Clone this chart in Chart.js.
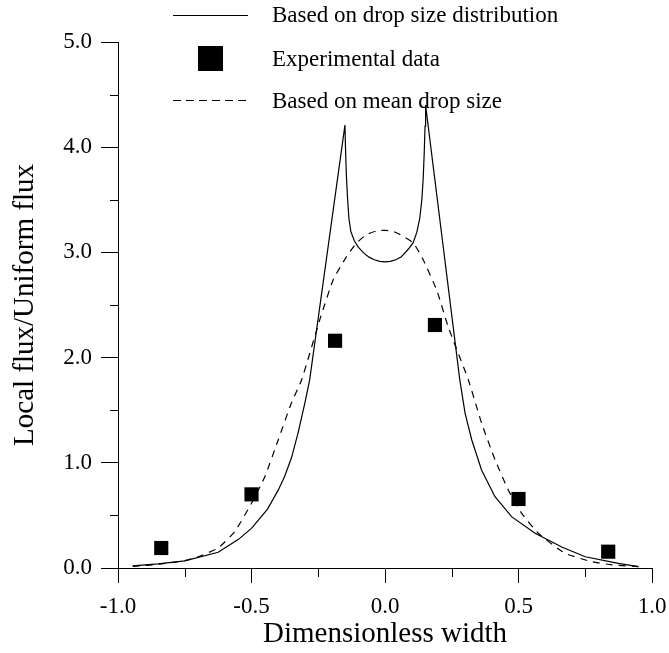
<!DOCTYPE html>
<html>
<head>
<meta charset="utf-8">
<script src="https://cdn.jsdelivr.net/npm/chart.js@4"></script>
<style>
  body { margin: 0; background: #fff; }
  #wrap { position: relative; width: 669px; height: 653px; }
  .leyenda { position: absolute; left: 272px; font-family: "Liberation Serif", "Times New Roman", serif; font-size: 23px; line-height: 23px; color: #000; white-space: nowrap; }
</style>
</head>
<body>
<div id="wrap">
  <canvas id="fluxChart" width="669" height="653"></canvas>
  <svg style="position:absolute;left:0;top:0" width="669" height="120">
    <line x1="173" y1="15.5" x2="248" y2="15.5" stroke="#000" stroke-width="1.2"/>
    <rect x="198" y="46" width="25" height="25" fill="#000"/>
    <line x1="173" y1="100.5" x2="248" y2="100.5" stroke="#000" stroke-width="1.2" stroke-dasharray="8,5"/>
  </svg>
  <div class="leyenda" style="top:3px">Based on drop size distribution</div>
  <div class="leyenda" style="top:47px">Experimental data</div>
  <div class="leyenda" style="top:89px">Based on mean drop size</div>
</div>
<script>
// Curva basada en la distribucion de tamaño de gotas
var distX = [-0.945, -0.85, -0.75, -0.625, -0.55, -0.50, -0.44, -0.40, -0.376, -0.35, -0.326, -0.30, -0.282,
             -0.15, -0.148, -0.145, -0.14, -0.135, -0.128, -0.115, -0.10, -0.08, -0.06, -0.04, -0.02, 0.0,
             0.02, 0.04, 0.06, 0.087, 0.105, 0.119, 0.13, 0.138, 0.143, 0.147, 0.15, 0.152,
             0.28, 0.30, 0.325, 0.362, 0.412, 0.474, 0.562, 0.662, 0.75, 0.874, 0.949];
var distY = [0.02, 0.04, 0.067, 0.15, 0.27, 0.377, 0.56, 0.74, 0.87, 1.05, 1.28, 1.57, 1.79,
             4.21, 4.0, 3.75, 3.5, 3.32, 3.2, 3.11, 3.05, 2.995, 2.955, 2.93, 2.915, 2.91,
             2.915, 2.93, 2.955, 3.03, 3.09, 3.19, 3.32, 3.5, 3.7, 3.95, 4.2, 4.40,
             1.79, 1.47, 1.217, 0.93, 0.678, 0.488, 0.33, 0.20, 0.107, 0.044, 0.013];

// Curva basada en el tamaño medio de gota
var mediaX = [-0.945, -0.85, -0.75, -0.70, -0.625, -0.563, -0.50, -0.45, -0.40, -0.351, -0.312, -0.243, -0.194,
              -0.144, -0.106, -0.069, -0.03, 0.0, 0.03, 0.056, 0.106, 0.143, 0.194, 0.237, 0.312, 0.362,
              0.412, 0.462, 0.512, 0.574, 0.674, 0.774, 0.85, 0.949];
var mediaY = [0.015, 0.035, 0.07, 0.107, 0.19, 0.345, 0.615, 0.868, 1.217, 1.566, 1.79, 2.37, 2.74,
              2.96, 3.09, 3.17, 3.205, 3.21, 3.2, 3.17, 3.09, 2.93, 2.64, 2.29, 1.79, 1.375,
              1.03, 0.74, 0.52, 0.33, 0.14, 0.06, 0.03, 0.013];

// Datos experimentales
var expX = [-0.838, -0.50, -0.187, 0.187, 0.50, 0.836];
var expY = [0.19, 0.70, 2.16, 2.31, 0.656, 0.155];

var ejeXMenores = [-0.75, -0.25, 0.25, 0.75];
var ejeYMenores = [0.5, 1.5, 2.5, 3.5, 4.5];

function puntos(xs, ys) {
    return xs.map(function(x, i) { return {x: x, y: ys[i]}; });
}

var fuente = "'Liberation Serif', 'Times New Roman', serif";

// Marcas menores de los ejes
var marcasMenores = {
    id: 'marcasMenores',
    afterDraw: function(chart) {
        var ctx = chart.ctx;
        var sx = chart.scales.x, sy = chart.scales.y;
        ctx.save();
        ctx.strokeStyle = '#000';
        ctx.lineWidth = 1;
        ctx.beginPath();
        ejeXMenores.forEach(function(v) {
            var px = Math.round(sx.getPixelForValue(v)) + 0.5;
            ctx.moveTo(px, sy.bottom);
            ctx.lineTo(px, sy.bottom + 9);
        });
        ejeYMenores.forEach(function(v) {
            var py = Math.round(sy.getPixelForValue(v)) + 0.5;
            ctx.moveTo(sx.left - 8, py);
            ctx.lineTo(sx.left, py);
        });
        ctx.stroke();
        ctx.restore();
    }
};

document.addEventListener("DOMContentLoaded", function() {
    var ctx = document.getElementById('fluxChart').getContext('2d');
    var fluxChart = new Chart(ctx, {
        type: 'scatter',
        data: {
            datasets: [{
                label: 'Experimental data',
                data: puntos(expX, expY),
                pointStyle: 'rect',
                pointRadius: 10,
                pointBackgroundColor: '#000',
                pointBorderWidth: 0,
                showLine: false,
                order: 0
            }, {
                label: 'Based on drop size distribution',
                data: puntos(distX, distY),
                showLine: true,
                borderColor: '#000',
                borderWidth: 1.2,
                pointRadius: 0,
                tension: 0,
                order: 1
            }, {
                label: 'Based on mean drop size',
                data: puntos(mediaX, mediaY),
                showLine: true,
                borderColor: '#000',
                borderWidth: 1.2,
                borderDash: [7, 6],
                pointRadius: 0,
                tension: 0.15,
                order: 2
            }]
        },
        options: {
            responsive: false,
            animation: false,
            layout: { padding: { top: 42, right: 17, left: 0, bottom: 0 } },
            plugins: { legend: { display: false }, tooltip: { enabled: false } },
            scales: {
                x: {
                    type: 'linear',
                    min: -1, max: 1,
                    afterFit: function(scale) {
                        scale.height = 85;
                        scale.paddingLeft = 0;
                        scale.paddingRight = 0;
                    },
                    border: { color: '#000', width: 1 },
                    grid: { drawOnChartArea: false, tickLength: 15, tickColor: '#000' },
                    ticks: {
                        stepSize: 0.5, padding: 10, color: '#000', maxRotation: 0,
                        font: { family: fuente, size: 23 },
                        callback: function(v) { return v.toFixed(1); }
                    },
                    title: {
                        display: true, text: 'Dimensionless width', color: '#000',
                        font: { family: fuente, size: 29 }, padding: { top: 0, bottom: 1 }
                    }
                },
                y: {
                    min: 0, max: 5,
                    afterFit: function(scale) { scale.width = 118; },
                    border: { color: '#000', width: 1 },
                    grid: { drawOnChartArea: false, tickLength: 17, tickColor: '#000' },
                    ticks: {
                        stepSize: 1, padding: 9, color: '#000',
                        font: { family: fuente, size: 23 },
                        callback: function(v) { return v.toFixed(1); }
                    },
                    title: {
                        display: true, text: 'Local flux/Uniform flux', color: '#000',
                        font: { family: fuente, size: 29 }, padding: { top: 8, bottom: 0 }
                    }
                }
            }
        },
        plugins: [marcasMenores]
    });
});
</script>
</body>
</html>
